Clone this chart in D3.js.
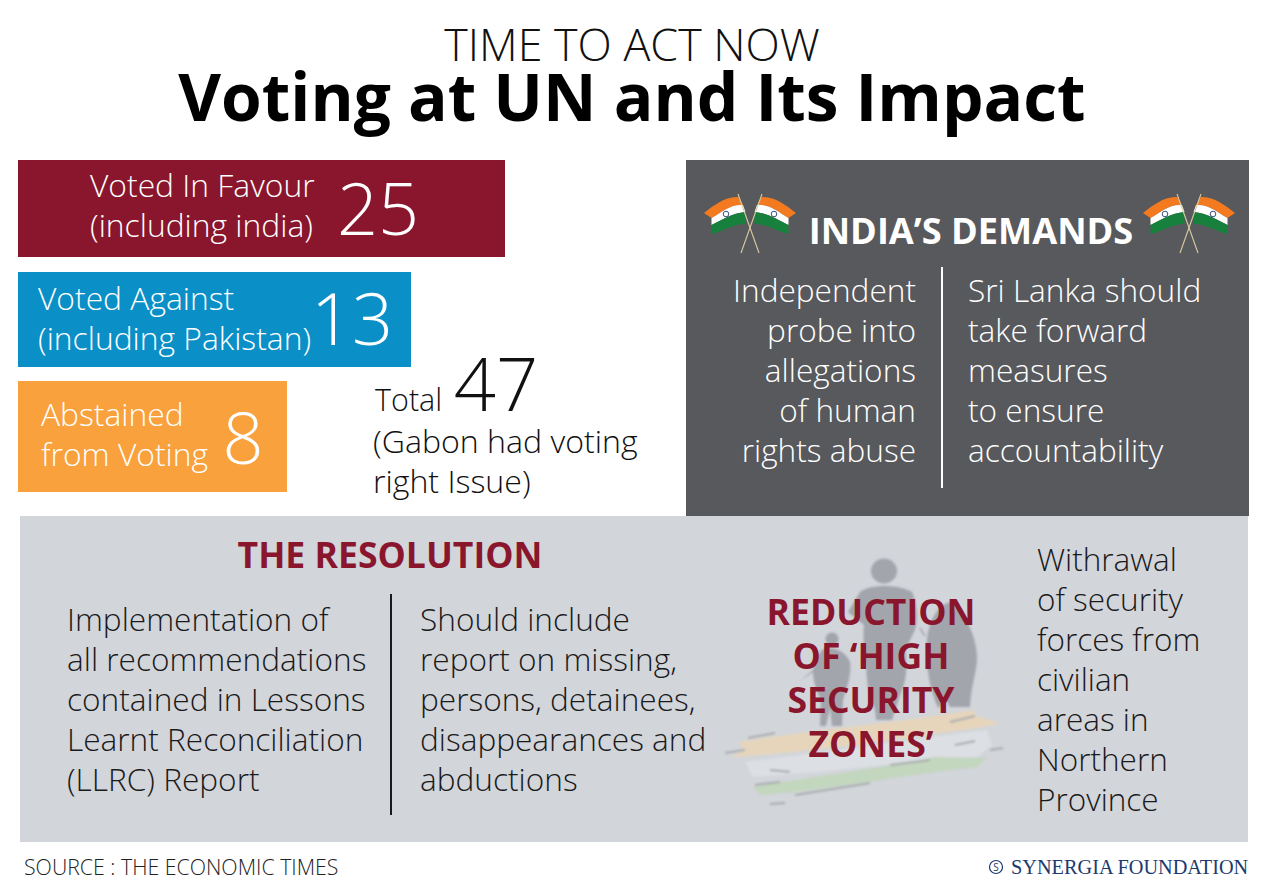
<!DOCTYPE html>
<html><head><meta charset="utf-8">
<script src="https://cdn.jsdelivr.net/npm/d3@7/dist/d3.min.js"></script>
<style>
html,body{margin:0;padding:0;background:#fff}
svg{display:block}
text{font-family:"Open Sans",sans-serif}
</style></head><body>
<svg id="c" width="1265" height="894"></svg>
<script>
const voteCategories=[["Voted In Favour","(including india)"],["Voted Against","(including Pakistan)"],["Abstained","from Voting"]];
const voteValues=[25,13,8];
const voteColors=["#8a162d","#0b8fc7","#f9a13c"];
const totalValue=47;
const totalNote=["(Gabon had voting","right Issue)"];
const demandsLeft=["Independent","probe into","allegations","of human","rights abuse"];
const demandsRight=["Sri Lanka should","take forward","measures","to ensure","accountability"];
const resolutionLeft=["Implementation of","all recommendations","contained in Lessons","Learnt Reconciliation","(LLRC) Report"];
const resolutionRight=["Should include","report on missing,","persons, detainees,","disappearances and","abductions"];
const reductionTitle=["REDUCTION","OF ‘HIGH","SECURITY","ZONES’"];
const reductionText=["Withrawal","of security","forces from","civilian","areas in","Northern","Province"];

const svg=d3.select("#c");
const barW=d3.scaleLinear().domain([8,13,25]).range([269,393,487]);
const barY=d3.scaleOrdinal().domain(voteValues).range([160,272,381]);
const barH=d3.scaleOrdinal().domain(voteValues).range([97,95,111]);
const labelX=[90,38,41], valueX=[378,352,243], labelY=[[197,237],[310,350],[426,466]], valueY=[235,345,464];

function lines(g,arr,x,y0,dy,opt={}){
  g.selectAll(null).data(arr).join("text").attr("x",x).attr("y",(d,i)=>y0+i*dy)
   .attr("font-size",opt.size||32).attr("font-weight",opt.weight||300)
   .attr("fill",opt.fill||"#1a1a1a").attr("text-anchor",opt.anchor||"start")
   .text(d=>d);
}
svg.append("text").attr("x",632).attr("y",61).attr("text-anchor","middle").attr("font-size",44.8).attr("font-weight",300).attr("fill","#111").text("TIME TO ACT NOW");
svg.append("text").attr("x",632).attr("y",121).attr("text-anchor","middle").attr("font-size",65.8).attr("font-weight",700).attr("fill","#000").text("Voting at UN and Its Impact");

const bars=svg.append("g");
bars.selectAll("rect").data(voteValues).join("rect")
 .attr("x",18).attr("y",d=>barY(d)).attr("width",d=>barW(d)).attr("height",d=>barH(d))
 .attr("fill",(d,i)=>voteColors[i]);
voteCategories.forEach((c,i)=>{
  c.forEach((t,j)=>bars.append("text").attr("x",labelX[i]).attr("y",labelY[i][j]).attr("font-size",31.8).attr("font-weight",300).attr("fill","#fff").text(t));
  bars.append("text").attr("x",valueX[i]).attr("y",valueY[i]).attr("text-anchor","middle").attr("font-size",72).attr("font-weight",300).attr("fill","#fff").text(voteValues[i]);
});
svg.append("text").attr("x",375).attr("y",411).attr("font-size",30.5).attr("font-weight",300).attr("fill","#111").text("Total");
svg.append("text").attr("x",496).attr("y",411).attr("text-anchor","middle").attr("font-size",74).attr("font-weight",300).attr("fill","#111").text(totalValue);
lines(svg,totalNote,373,453,40,{size:32.1,fill:"#111"});

// India's demands panel
svg.append("rect").attr("x",686).attr("y",160).attr("width",563).attr("height",356).attr("fill","#58595c");
svg.append("text").attr("x",971).attr("y",244).attr("text-anchor","middle").attr("font-size",36.2).attr("font-weight",700).attr("fill","#fff").text("INDIA’S DEMANDS");
svg.append("line").attr("x1",942).attr("x2",942).attr("y1",267).attr("y2",488).attr("stroke","#fff").attr("stroke-width",2);
lines(svg,demandsLeft,916,302,40,{anchor:"end",fill:"#fff",size:31.6});
lines(svg,demandsRight,968,302,40,{fill:"#fff",size:31.6});

function flagPair(cx){
  const g=svg.append("g").attr("transform",`translate(${cx},0)`);
  [1,-1].forEach(m=>{
    const f=g.append("g").attr("transform",`scale(${m},1)`);
    f.append("path").attr("d","M-46 213 C-36 205 -24 196 -12 197 L-7 205 C-20 204 -28 212 -38.5 218 Z").attr("fill","#f47a20");
    f.append("path").attr("d","M-38.5 218 C-28 212 -20 204 -7 205 L-4.5 212 C-18 213 -28 220 -38.5 225 Z").attr("fill","#fff");
    f.append("path").attr("d","M-38.5 225 C-28 220 -18 213 -4.5 212 L-4.5 224 C-18 224 -28 232 -38.5 234 Z").attr("fill","#16803c");
    f.append("circle").attr("cx",-24).attr("cy",214).attr("r",2.8).attr("fill","none").attr("stroke","#1f3b73").attr("stroke-width",.9);
    f.append("line").attr("x1",-12).attr("y1",194).attr("x2",9).attr("y2",253).attr("stroke","#d9cba0").attr("stroke-width",1.1);
  });
}
flagPair(750);flagPair(1189);

// Resolution panel
svg.append("rect").attr("x",20).attr("y",516).attr("width",1228).attr("height",326).attr("fill","#d2d5da");
svg.append("text").attr("x",390).attr("y",568).attr("text-anchor","middle").attr("font-size",35.6).attr("font-weight",700).attr("fill","#8a162d").text("THE RESOLUTION");
svg.append("line").attr("x1",391).attr("x2",391).attr("y1",594).attr("y2",815).attr("stroke","#1a1a1a").attr("stroke-width",2);
lines(svg,resolutionLeft,67,631,40,{size:31.6});
lines(svg,resolutionRight,420,631,40,{size:31.6});
lines(svg,reductionText,1037,571,40,{size:31.5});

// decorative soldiers and brush flag
const defs=svg.append("defs");
defs.append("filter").attr("id","soft").append("feGaussianBlur").attr("stdDeviation",0.8);
const deco=svg.append("g").attr("filter","url(#soft)");
const sil="#a2a5ab";
deco.append("path").attr("d","M738 742 C800 732 900 722 973 710 L976 716 L1000 723 L978 728 C900 738 820 752 730 757 L745 750 Z").attr("fill","#e6d5bb");
deco.append("path").attr("d","M745 762 C830 752 920 738 987 730 L992 745 L977 757 C900 762 830 772 753 777 Z").attr("fill","#dcdfe3");
deco.append("path").attr("d","M753 787 C800 778 860 772 935 757 L987 758 L977 767 C900 775 830 790 760 795 Z").attr("fill","#c3d6be");
deco.append("ellipse").attr("cx",884).attr("cy",571).attr("rx",13).attr("ry",12.5).attr("fill",sil);
deco.append("path").attr("d","M860 592 C870 584 898 584 912 592 C918 605 918 625 914 632 L905 650 C908 668 906 682 900 695 L892 720 L876 720 C876 705 868 695 867 680 C866 660 862 640 864 625 L848 612 Z").attr("fill",sil);
deco.append("path").attr("d","M950 602 C965 610 978 640 977 660 C976 675 971 685 970 707 L950 707 L946 700 L938 708 C930 690 925 665 927 640 C929 620 938 605 950 602 Z").attr("fill",sil);
deco.append("circle").attr("cx",832).attr("cy",639).attr("r",6.5).attr("fill",sil);
deco.append("path").attr("d","M822 650 C830 645 845 650 850 662 C852 675 846 690 843 700 L842 726 L832 726 L830 708 L826 726 L820 726 L821 700 C816 690 813 680 813 672 L800 681 L813 670 C815 660 818 654 822 650 Z").attr("fill",sil);
deco.append("path").attr("d","M920 628 L925 636").attr("stroke",sil).attr("stroke-width",1.5);
deco.selectAll(null).data(["M748 738 L775 733","M950 722 L975 716","M955 745 L975 741","M770 770 L790 772","M755 785 L780 782","M795 795 L870 783","M890 765 L930 760","M990 750 L1003 748","M725 753 L745 750","M770 804 L785 803"])
  .join("path").attr("d",d=>d).attr("stroke","#a9acad").attr("stroke-width",2).attr("fill","none");
lines(svg,reductionTitle,871,625,44,{anchor:"middle",weight:700,size:35.6,fill:"#8a162d"});

// footer
svg.append("text").attr("x",24).attr("y",875).attr("font-size",21.3).attr("font-weight",300).attr("fill","#222").text("SOURCE : THE ECONOMIC TIMES");
svg.append("circle").attr("cx",996).attr("cy",867).attr("r",6.5).attr("fill","none").attr("stroke","#1d3a6e").attr("stroke-width",1.2);
svg.append("text").attr("x",996).attr("y",871).attr("text-anchor","middle").attr("font-size",10).attr("fill","#1d3a6e").text("S");
svg.append("text").attr("x",1011).attr("y",874).style("font-family","'Liberation Serif',serif").attr("font-size",20.3).attr("fill","#1d3a6e").text("SYNERGIA FOUNDATION");
</script></body></html>
